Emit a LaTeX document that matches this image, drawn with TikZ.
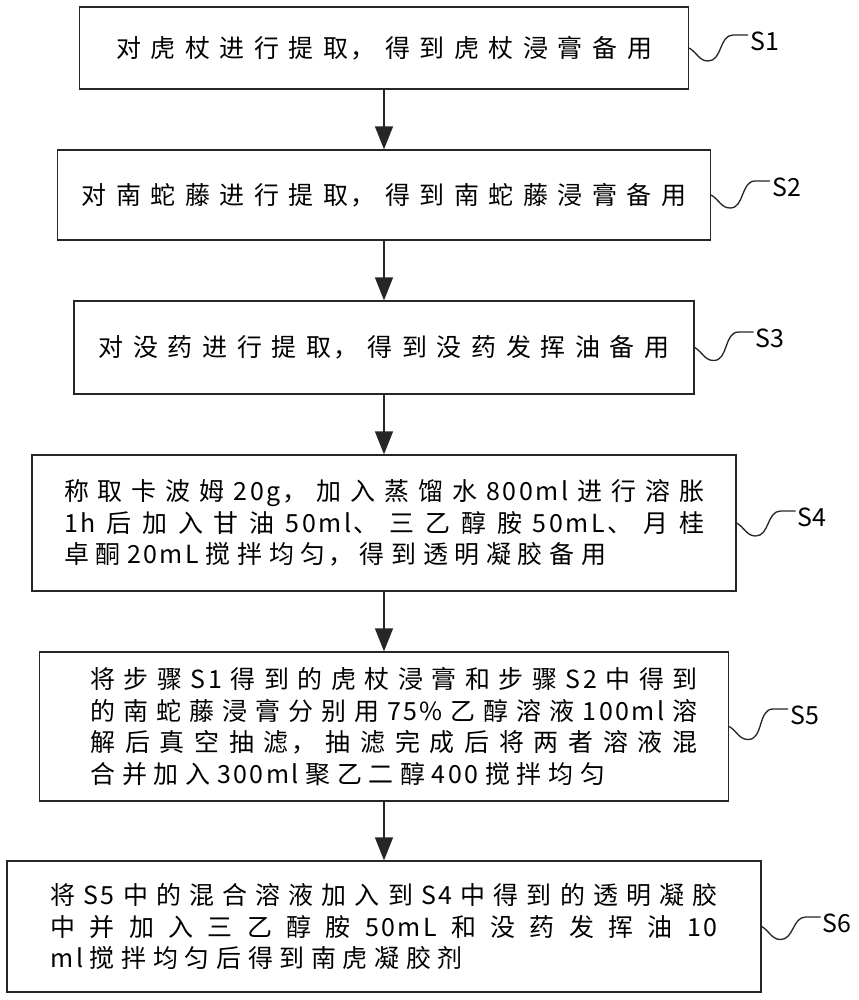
\documentclass[tikz,border=0pt]{standalone}
\usepackage{fontspec}
\setmainfont{Noto Sans CJK SC}
\newfontfamily\cjk[LetterSpace=10]{Noto Sans CJK SC}
\usetikzlibrary{calc,positioning,arrows.meta}
\XeTeXlinebreaklocale "zh"
\XeTeXlinebreakskip=3.8pt plus 1em minus 3pt
\tolerance=10000
\hbadness=10000
\setlength\parindent{0pt}
\def\fullline{\parfillskip=0pt\relax}
\tikzset{
  stepbox/.style={draw=black!85, line width=0.75pt, inner sep=0pt, align=justify,
    font=\cjk\fontsize{14.2pt}{17.9pt}\selectfont},
  flow/.style={draw=black!85, line width=0.75pt, -{Triangle[length=0.46cm,width=0.36cm]}},
  wave/.style={draw=black!85, line width=0.75pt},
  tagtext/.style={inner sep=1pt, font=\fontsize{14.2pt}{17pt}\selectfont}
}
\def\tagline(#1)(#2:#3:#4){%
  \node[tagtext, right=1.18cm of #1.east, yshift=#4cm] (#2) {#3};
  \draw[wave] (#1.east) to[out=-30,in=180] ++(0.38,-0.26) to[out=0,in=180] ($(#2.west)+(-0.3,0.12)$) -- ($(#2.west)+(0,0.12)$);}

\begin{document}
\begin{tikzpicture}
	%%%%% boxes %%%%%
	\useasboundingbox (0,0) rectangle (17.18,-20);
	
	\node[stepbox, minimum width=12.18cm, minimum height=1.64cm, text width=10.72cm] (b1) at (7.68,-0.96) {\fullline 对虎杖进行提取，得到虎杖浸膏备用\par};
	\node[stepbox, minimum width=13.06cm, minimum height=1.80cm, text width=12.08cm] (b2) at (7.68,-3.90) {\fullline 对南蛇藤进行提取，得到南蛇藤浸膏备用\par};
	\node[stepbox, minimum width=12.40cm, minimum height=1.86cm, text width=11.40cm] (b3) at (7.68,-6.95) {\fullline 对没药进行提取，得到没药发挥油备用\par};
	\node[stepbox, minimum width=14.08cm, minimum height=2.72cm, text width=12.80cm] (b4) at (7.68,-10.46) {称取卡波姆20g，加入蒸馏水800ml进行溶胀\linebreak 1h后加入甘油50ml、三乙醇胺50mL、月桂\linebreak 卓酮20mL搅拌均匀，得到透明凝胶备用};
	\node[stepbox, minimum width=13.78cm, minimum height=2.98cm, text width=12.54cm] (b5) at (7.68,-14.53) {\leftskip=0.4cm 将步骤S1得到的虎杖浸膏和步骤S2中得到\linebreak 的南蛇藤浸膏分别用75\%乙醇溶液100ml溶\linebreak 解后真空抽滤，抽滤完成后将两者溶液混\linebreak 合并加入300ml聚乙二醇400搅拌均匀\par};
	\node[stepbox, minimum width=15.08cm, minimum height=2.62cm, text width=13.34cm] (b6) at (7.68,-18.53) {将S5中的混合溶液加入到S4中得到的透明凝胶\linebreak 中并加入三乙醇胺50mL和没药发挥油10\linebreak ml搅拌均匀后得到南虎凝胶剂};
	
	%%%%% arrows %%%%%
	\draw[flow] (b1.south) -- (b2.north);
	\draw[flow] (b2.south) -- (b3.north);
	\draw[flow] (b3.south) -- (b4.north);
	\draw[flow] (b4.south) -- (b5.north);
	\draw[flow] (b5.south) -- (b6.north);
	
	%%%%% step tags %%%%%
	\tagline(b1)(t1:S1:0.14)
	\tagline(b2)(t2:S2:0.16)
	\tagline(b3)(t3:S3:0.19)
	\tagline(b4)(t4:S4:0.12)
	\tagline(b5)(t5:S5:0.23)
	\tagline(b6)(t6:S6:0.07)
\end{tikzpicture}
\end{document}
